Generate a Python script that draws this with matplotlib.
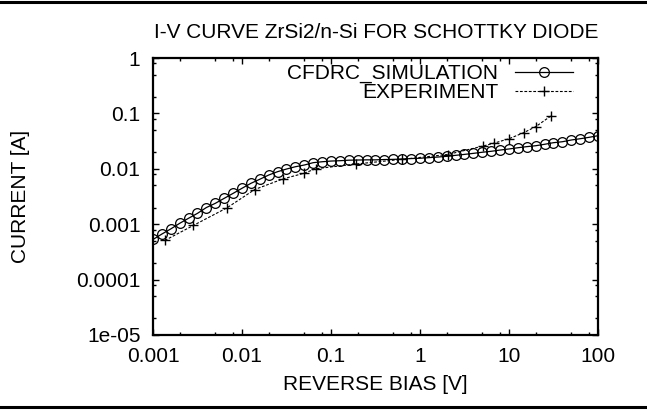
import matplotlib
matplotlib.use("Agg")
import matplotlib.pyplot as plt
from matplotlib.lines import Line2D
from matplotlib.ticker import LogLocator, NullFormatter

plt.rcParams['font.family'] = ['Liberation Sans', 'DejaVu Sans']

# simulated reverse bias grid (10 points per decade) and current
sim_bias = [0.001, 0.00126, 0.00158, 0.002, 0.00251, 0.00316, 0.00398, 0.00501, 0.00631, 0.00794,
            0.01, 0.0126, 0.0158, 0.02, 0.0251, 0.0316, 0.0398, 0.0501, 0.0631, 0.0794,
            0.1, 0.126, 0.158, 0.2, 0.251, 0.316, 0.398, 0.501, 0.631, 0.794,
            1.0, 1.26, 1.58, 2.0, 2.51, 3.16, 3.98, 5.01, 6.31, 7.94,
            10.0, 12.6, 15.8, 20.0, 25.1, 31.6, 39.8, 50.1, 63.1, 79.4, 100.0]
sim_current = [5.3e-4, 6.65e-4, 8.2e-4, 1.04e-3, 1.28e-3, 1.57e-3, 2.0e-3, 2.38e-3, 2.93e-3, 3.6e-3,
               4.45e-3, 5.47e-3, 6.46e-3, 7.73e-3, 8.87e-3, 9.9e-3, 1.09e-2, 1.17e-2, 1.29e-2, 1.34e-2,
               1.38e-2, 1.40e-2, 1.43e-2, 1.44e-2, 1.45e-2, 1.45e-2, 1.47e-2, 1.48e-2, 1.50e-2, 1.53e-2,
               1.55e-2, 1.59e-2, 1.63e-2, 1.68e-2, 1.75e-2, 1.82e-2, 1.90e-2, 1.99e-2, 2.07e-2, 2.18e-2,
               2.28e-2, 2.40e-2, 2.51e-2, 2.61e-2, 2.77e-2, 2.96e-2, 3.08e-2, 3.31e-2, 3.49e-2, 3.70e-2, 3.96e-2]

# measured points
exp_bias = [0.00136, 0.00284, 0.0068, 0.0139, 0.0291, 0.0497, 0.067, 0.191, 0.622,
            2.04, 5.14, 6.87, 10.0, 14.6, 19.9, 29.8]
exp_current = [5.1e-4, 9.5e-4, 1.98e-3, 4.23e-3, 6.6e-3, 8.3e-3, 1.0e-2, 1.22e-2, 1.48e-2,
               1.81e-2, 2.58e-2, 2.92e-2, 3.49e-2, 4.48e-2, 5.75e-2, 9.06e-2]

x_ticks = [0.001, 0.01, 0.1, 1, 10, 100]
x_labels = ['0.001', '0.01', '0.1', '1', '10', '100']
y_ticks = [1e-5, 1e-4, 1e-3, 1e-2, 1e-1, 1]
y_labels = ['1e-05', '0.0001', '0.001', '0.01', '0.1', '1']

FS = 15
W, H = 647, 412
fig = plt.figure(figsize=(W / 100, H / 100), dpi=100)
ax = fig.add_axes([153 / W, (H - 335) / H, 445 / W, 277 / H])

ax.plot(sim_bias, sim_current, color='black', linewidth=0.9, marker='o', markersize=7,
        markerfacecolor='none', markeredgewidth=0.9, label='CFDRC_SIMULATION')
ax.plot(exp_bias, exp_current, color='black', linewidth=0.8, linestyle=(0, (2.5, 1.5)),
        marker='+', markersize=7, markeredgewidth=1.0, label='EXPERIMENT')

ax.set_xscale('log')
ax.set_yscale('log')
ax.set_xlim(0.001, 100)
ax.set_ylim(1e-5, 1)

ax.set_xticks(x_ticks, labels=x_labels)
ax.set_yticks(y_ticks, labels=y_labels)
ax.xaxis.set_minor_locator(LogLocator(base=10, subs=(2, 5, 8)))
ax.yaxis.set_minor_locator(LogLocator(base=10, subs=(2, 5, 8)))
ax.xaxis.set_minor_formatter(NullFormatter())
ax.yaxis.set_minor_formatter(NullFormatter())
ax.tick_params(which='both', direction='in', top=True, right=True, labelsize=FS, width=1.0)
ax.tick_params(which='major', length=4)
ax.tick_params(which='minor', length=2)
ax.tick_params(axis='y', pad=9)
ax.tick_params(axis='x', pad=8.5)
for s in ax.spines.values():
    s.set_linewidth(1.6)

fig.text(376 / W, (H - 33) / H, 'I-V CURVE ZrSi2/n-Si FOR SCHOTTKY DIODE', fontsize=FS,
         ha='center', va='center')
ax.set_xlabel('REVERSE BIAS [V]', fontsize=FS)
ax.set_ylabel('CURRENT [A]', fontsize=FS)
ax.xaxis.set_label_coords(0.5, (335 - 375) / 277)
ax.yaxis.set_label_coords((30 - 153) / 445, 0.5)

ax.legend(loc='upper right', bbox_to_anchor=(573 / W, (H - 64) / H), bbox_transform=fig.transFigure,
          frameon=False, markerfirst=False, fontsize=FS, handlelength=2.8, handletextpad=0.8,
          labelspacing=0.0, borderpad=0, borderaxespad=0)

# horizontal rules at top and bottom of the figure
fig.add_artist(Line2D([0, 1], [1 - 1.5 / H, 1 - 1.5 / H], color='black', linewidth=2.2,
                      transform=fig.transFigure))
fig.add_artist(Line2D([0, 1], [(H - 406.5) / H, (H - 406.5) / H], color='black', linewidth=2.2,
                      transform=fig.transFigure))

fig.savefig('out.png', dpi=100)
plt.close(fig)
